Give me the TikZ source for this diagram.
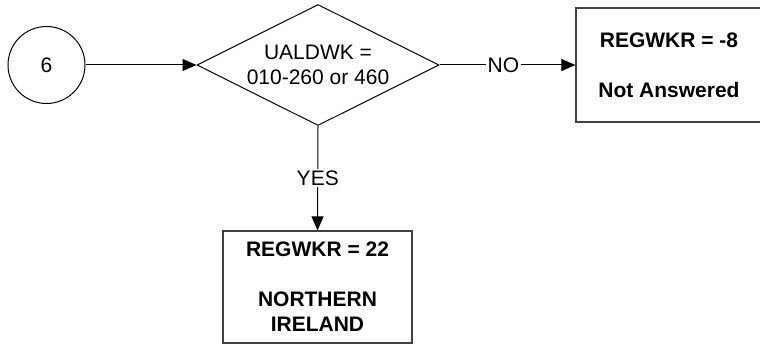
\documentclass[tikz,border=0pt]{standalone}
\usepackage{fontspec}
\setmainfont{Liberation Sans}
\usetikzlibrary{shapes.geometric,arrows.meta}
\begin{document}
\begin{tikzpicture}[x=1pt,y=-1pt,
  every node/.style={font=\fontsize{21}{25}\selectfont, text=black},
  conn/.style={draw=black, line width=1pt},
  arr/.style={conn, -{Triangle[length=14pt,width=12pt]}},
  boxnode/.style={draw=black!75, line width=1.2pt, rectangle, inner sep=0pt, align=center, font=\fontsize{21}{25}\selectfont\bfseries},
  lbl/.style={fill=white, inner sep=1.5pt}
]
\useasboundingbox (0,0) rectangle (760,345);
\node[draw=black, line width=1pt, circle, minimum size=77pt, inner sep=0pt] (start) at (46.5,65) {6};
\node[draw=black, line width=1pt, diamond, aspect=2, inner sep=0pt, minimum width=242pt, minimum height=121pt, align=center] (dec) at (318,65) {UALDWK =\\010-260 or 460};
\node[boxnode, minimum width=186pt, minimum height=114pt] (rb) at (669,65) {REGWKR = -8\\[25pt]Not Answered};
\node[boxnode, minimum width=189pt, minimum height=112pt] (bb) at (317.5,287) {REGWKR = 22\\[25pt]NORTHERN\\IRELAND};
\draw[arr] (start.east) -- (dec.west);
\draw[arr] (dec.east) -- node[lbl, pos=0.47] {NO} (rb.west);
\draw[arr] (dec.south) -- node[lbl, pos=0.5] {YES} (bb.north);
\end{tikzpicture}
\end{document}
